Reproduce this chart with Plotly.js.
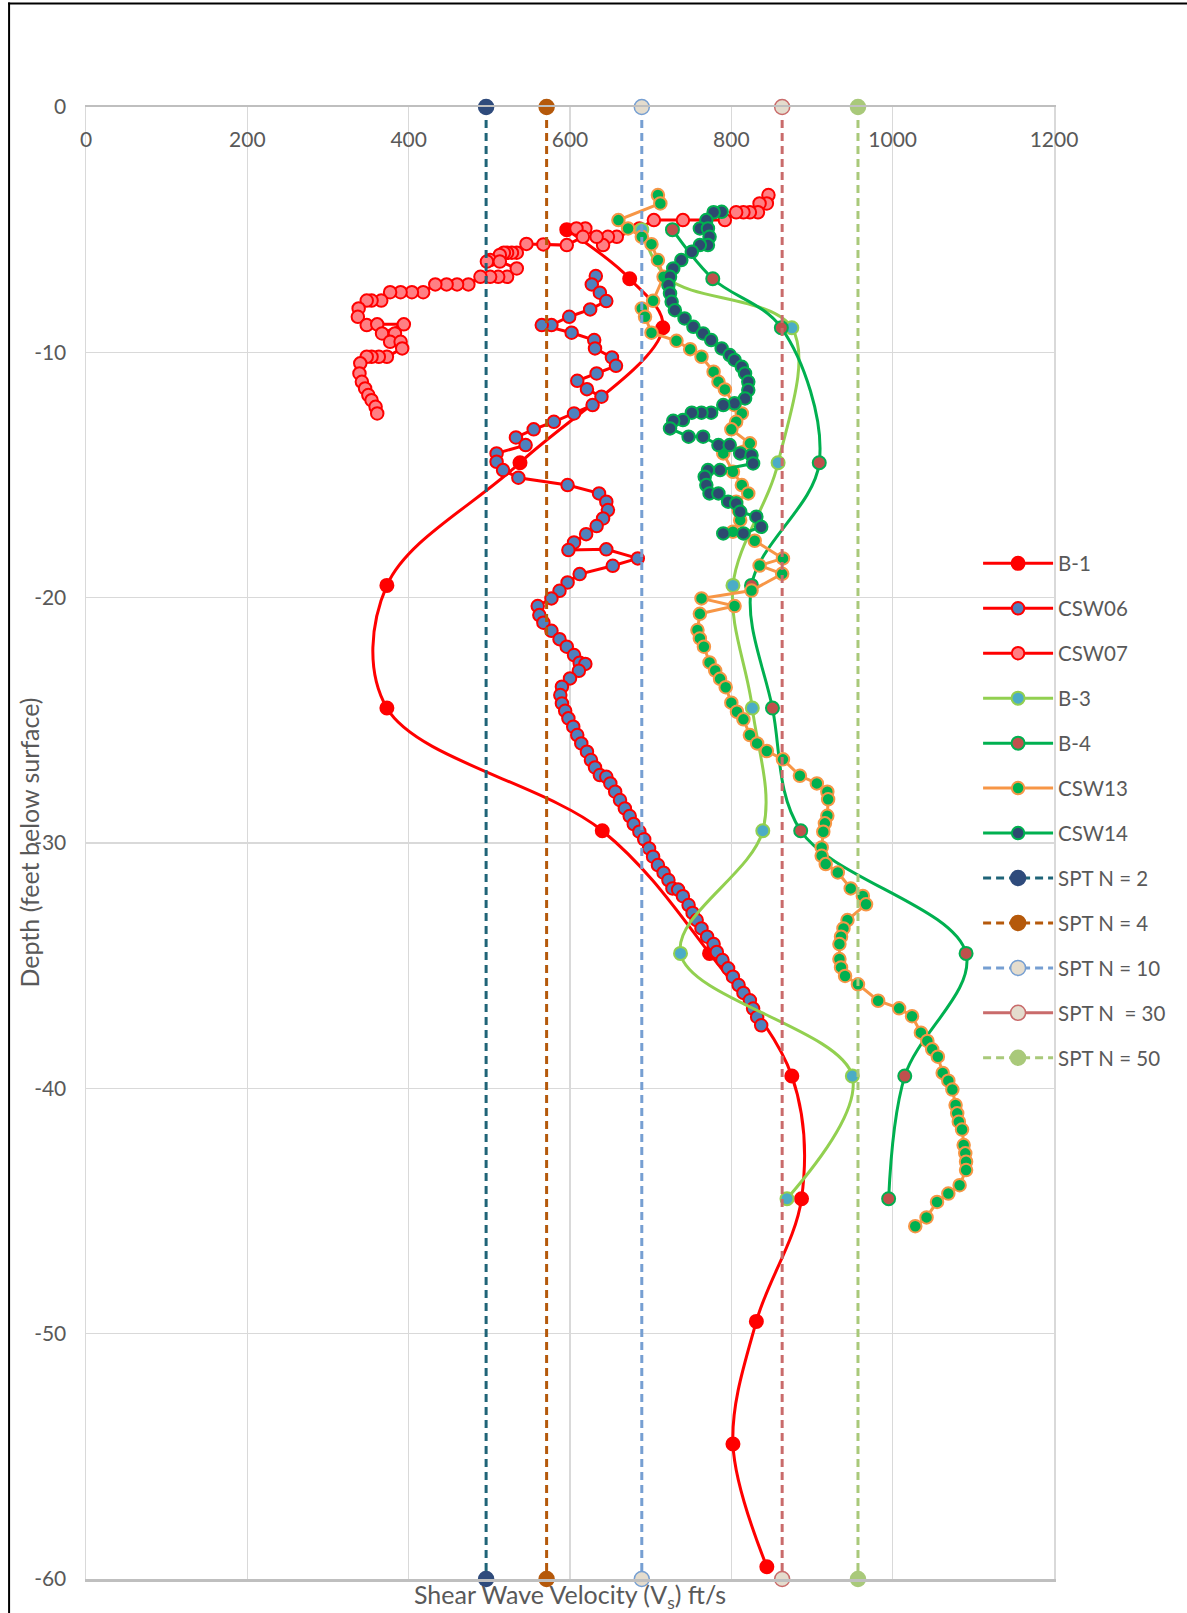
<!DOCTYPE html>
<html>
<head>
<meta charset="utf-8">
<script src="https://cdn.plot.ly/plotly-3.0.0.min.js"></script>
<style>
  html, body { margin: 0; padding: 0; background: #fff; }
  #chart { width: 1187px; height: 1613px; }
</style>
</head>
<body>
<div id="chart"></div>
<script>
// ---------------- DATA ----------------
const xTickVals = [0, 200, 400, 600, 800, 1000, 1200];
const yTickVals = [0, -10, -20, -30, -40, -50, -60];
const yTickText = ['0', '-10', '-20', '-30', '-40', '-50', '-60'];

const b1Vs    = [596, 674, 715, 538, 373, 373, 640, 773, 875, 887, 831, 802, 844];
const b1Depth = [-5, -7, -9, -14.5, -19.5, -24.5, -29.5, -34.5, -39.5, -44.5, -49.5, -54.5, -59.5];

const csw06Vs = [632, 627, 637, 645, 625, 599, 577, 565, 602, 630, 631, 652, 657, 633, 609, 621, 639, 628, 605, 580,
  555, 533, 545, 509, 509, 517, 536, 597, 636, 645, 647, 641, 633, 620, 605, 598, 645, 684, 653, 612,
  597, 587, 577, 560, 562, 567, 577, 587, 596, 605, 612, 619, 611, 600, 590, 588, 590, 594, 598, 604,
  609, 614, 621, 626, 631, 637, 645, 650, 656, 662, 668, 674, 679, 686, 692, 698, 703, 709, 716, 722,
  727, 734, 740, 747, 752, 757, 763, 770, 778, 782, 789, 796, 802, 809, 815, 823, 827, 832, 837];
const csw06Depth = [-6.89, -7.23, -7.57, -7.91, -8.25, -8.55, -8.89, -8.89, -9.2, -9.5, -9.84, -10.21, -10.55, -10.86, -11.16, -11.5, -11.81, -12.15, -12.49, -12.83,
  -13.14, -13.47, -13.78, -14.12, -14.46, -14.8, -15.11, -15.41, -15.75, -16.09, -16.43, -16.77, -17.08, -17.41, -17.75, -18.06, -18.03, -18.4, -18.7, -19.04,
  -19.38, -19.72, -20.03, -20.34, -20.71, -21.02, -21.35, -21.69, -22.0, -22.34, -22.65, -22.7, -22.98, -23.29, -23.63, -23.97, -24.31, -24.61, -24.92, -25.26,
  -25.6, -25.94, -26.28, -26.62, -26.92, -27.23, -27.3, -27.57, -27.91, -28.25, -28.59, -28.9, -29.23, -29.54, -29.85, -30.22, -30.56, -30.9, -31.21, -31.51,
  -31.85, -31.9, -32.17, -32.53, -32.85, -33.14, -33.48, -33.82, -34.12, -34.44, -34.77, -35.11, -35.45, -35.79, -36.11, -36.41, -36.75, -37.09, -37.43];

const csw07Vs = [846, 844, 835, 833, 823, 815, 806, 792, 740, 704, 686, 658, 647, 641, 633, 619, 608, 616, 596, 567,
  546, 534, 528, 522, 518, 513, 501, 497, 513, 534, 522, 511, 501, 489, 474, 460, 447, 433, 418, 404,
  390, 377, 366, 354, 348, 338, 337, 348, 361, 394, 367, 383, 377, 390, 392, 373, 363, 354, 348, 340,
  339, 342, 346, 350, 354, 359, 361];
const csw07Depth = [-3.59, -3.93, -3.93, -4.29, -4.29, -4.29, -4.29, -4.61, -4.61, -4.61, -4.95, -5.29, -5.29, -5.63, -5.29, -4.95, -4.95, -5.29, -5.63, -5.6,
  -5.58, -5.94, -5.94, -5.94, -5.94, -6.03, -6.24, -6.3, -6.3, -6.58, -6.92, -6.92, -6.92, -6.92, -7.23, -7.23, -7.23, -7.23, -7.55, -7.55,
  -7.55, -7.55, -7.89, -7.89, -7.89, -8.21, -8.55, -8.89, -8.86, -8.86, -9.23, -9.23, -9.57, -9.57, -9.84, -10.18, -10.18, -10.18, -10.18, -10.45,
  -10.86, -11.2, -11.47, -11.74, -11.95, -12.22, -12.49];

const b3Vs    = [689, 722, 875, 858, 802, 826, 839, 737, 950, 869];
const b3Depth = [-5, -7, -9, -14.5, -19.5, -24.5, -29.5, -34.5, -39.5, -44.5];

const b4Vs    = [727, 777, 862, 909, 825, 851, 886, 1091, 1015, 995];
const b4Depth = [-5, -7, -9, -14.5, -19.5, -24.5, -29.5, -34.5, -39.5, -44.5];

const csw13Vs = [709, 712, 660, 672, 689, 701, 709, 716, 703, 689, 693, 701, 732, 749, 763, 778, 784, 792, 804, 813,
  806, 800, 823, 790, 802, 813, 821, 806, 809, 811, 802, 829, 864, 835, 863, 825, 763, 804, 761, 758,
  761, 766, 773, 780, 786, 793, 800, 807, 815, 823, 832, 844, 864, 885, 906, 919, 920, 919, 916, 914,
  912, 912, 917, 932, 948, 963, 967, 944, 939, 936, 934, 934, 936, 941, 957, 982, 1008, 1024, 1035, 1043,
  1049, 1056, 1062, 1069, 1074, 1078, 1080, 1082, 1086, 1088, 1090, 1091, 1091, 1083, 1069, 1055, 1042, 1028];
const csw13Depth = [-3.59, -3.93, -4.61, -4.95, -5.29, -5.59, -6.24, -6.92, -7.9, -8.21, -8.55, -9.2, -9.53, -9.87, -10.18, -10.79, -11.2, -11.51, -12.15, -12.49,
  -12.83, -13.14, -13.71, -14.12, -14.87, -15.41, -15.75, -16.09, -16.43, -16.84, -17.31, -17.68, -18.4, -18.69, -19.03, -19.71, -20.03, -20.34, -20.66, -21.32,
  -21.66, -22.0, -22.64, -22.97, -23.31, -23.65, -24.28, -24.65, -24.96, -25.6, -25.94, -26.25, -26.59, -27.26, -27.57, -27.91, -28.22, -28.89, -29.2, -29.54,
  -30.18, -30.52, -30.86, -31.2, -31.85, -32.16, -32.5, -33.14, -33.48, -33.82, -34.12, -34.73, -35.07, -35.42, -35.76, -36.43, -36.74, -37.06, -37.73, -38.07,
  -38.41, -38.71, -39.37, -39.69, -40.05, -40.68, -41.02, -41.36, -41.68, -42.31, -42.65, -42.99, -43.33, -43.95, -44.29, -44.63, -45.26, -45.62];

const csw14Vs = [788, 778, 769, 761, 771, 773, 771, 761, 751, 738, 728, 724, 722, 724, 726, 730, 742, 753, 765, 775,
  788, 798, 804, 813, 817, 821, 821, 817, 804, 790, 775, 763, 751, 740, 728, 724, 747, 765, 784, 798,
  811, 825, 827, 786, 771, 767, 769, 773, 784, 796, 806, 811, 831, 837, 815, 790];
const csw14Depth = [-4.27, -4.29, -4.61, -4.95, -4.95, -5.29, -5.63, -5.63, -5.9, -6.24, -6.58, -6.92, -7.26, -7.6, -7.94, -8.28, -8.62, -8.96, -9.23, -9.5,
  -9.84, -10.11, -10.31, -10.59, -10.86, -11.2, -11.54, -11.88, -12.08, -12.15, -12.46, -12.46, -12.46, -12.76, -12.79, -13.1, -13.44, -13.44, -13.78, -13.78,
  -14.12, -14.19, -14.53, -14.8, -14.8, -15.07, -15.41, -15.75, -15.75, -16.09, -16.16, -16.5, -16.7, -17.11, -17.38, -17.38];

// SPT reference velocities (vertical lines spanning depth 0 to -60)
const sptNames = ['SPT N = 2', 'SPT N = 4', 'SPT N = 10', 'SPT N\u00a0 = 30', 'SPT N = 50'];
const sptVs    = [496, 571, 689, 863, 957];
const sptDepthSpan = [0, -60];

// ---------------- STYLES ----------------
const FONT = 'Lato, "Open Sans", "DejaVu Sans", sans-serif';
const TXT = '#595959';

function series(name, xs, ys, lineColor, fill, border, spline, msize) {
  return {
    type: 'scatter', mode: 'lines+markers', name: name, legendgroup: name,
    x: xs, y: ys,
    line: { color: lineColor, width: 3, shape: spline ? 'spline' : 'linear', smoothing: 1 },
    marker: { symbol: 'circle', size: msize || 12.5, color: fill, line: { color: border, width: 2 } }
  };
}

const sptStyles = [
  { line: '#1F6478', fill: '#2F4B7C', border: '#2F4B7C' },
  { line: '#B5590B', fill: '#B5590B', border: '#B5590B' },
  { line: '#769FD2', fill: '#E4DCCD', border: '#769FD2' },
  { line: '#C96B6B', fill: '#E4DCCD', border: '#C96B6B' },
  { line: '#A9C97A', fill: '#A9C97A', border: '#A9C97A' }
];

const traces = [
  series('B-1', b1Vs, b1Depth, '#FF0000', '#FF0000', '#FF0000', true, 13),
  series('CSW06', csw06Vs, csw06Depth, '#FF0000', '#4F81BD', '#FF0000', false),
  series('CSW07', csw07Vs, csw07Depth, '#FF0000', '#FF7F84', '#FF0000', false),
  series('B-3', b3Vs, b3Depth, '#92D050', '#4BACC6', '#92D050', true, 13),
  series('B-4', b4Vs, b4Depth, '#00B050', '#C0504D', '#00B050', true, 13),
  series('CSW13', csw13Vs, csw13Depth, '#F79646', '#00B050', '#F79646', false),
  series('CSW14', csw14Vs, csw14Depth, '#00B050', '#2D4A70', '#00B050', false)
];

sptNames.forEach(function (nm, i) {
  const st = sptStyles[i];
  const base = {
    type: 'scatter', mode: 'lines+markers', legendgroup: nm, cliponaxis: false,
    marker: { symbol: 'circle', size: 15, color: st.fill, line: { color: st.border, width: 1.5 } }
  };
  if (i === 3) {
    // legend sample for N = 30 is drawn solid in the original
    traces.push(Object.assign({}, base, { name: nm, x: [null], y: [null],
      line: { color: st.line, width: 3, dash: 'solid' } }));
    traces.push(Object.assign({}, base, { name: nm, showlegend: false,
      x: [sptVs[i], sptVs[i]], y: sptDepthSpan,
      line: { color: st.line, width: 3, dash: '8px,5px' } }));
  } else {
    traces.push(Object.assign({}, base, { name: nm,
      x: [sptVs[i], sptVs[i]], y: sptDepthSpan,
      line: { color: st.line, width: 3, dash: '8px,5px' } }));
  }
});

const L = 85.5, T = 107, W = 969, H = 1472;
function px2paperX(p) { return (p - L) / W; }
function px2paperY(p) { return (T + H - p) / H; }

const layout = {
  width: 1187, height: 1613,
  margin: { l: L, r: 1187 - L - W, t: T, b: 1613 - T - H, pad: 0 },
  paper_bgcolor: '#ffffff', plot_bgcolor: 'rgba(0,0,0,0)',
  font: { family: FONT, color: TXT, size: 21 },
  showlegend: true,
  xaxis: {
    range: [0, 1200], side: 'top', tickmode: 'array', tickvals: xTickVals,
    ticklabelposition: 'outside', ticks: '', ticklabelstandoff: -51,
    tickfont: { family: FONT, size: 21, color: TXT },
    showgrid: true, gridcolor: '#D9D9D9', gridwidth: 1.5,
    showline: true, linecolor: '#BFBFBF', linewidth: 2.5, mirror: true,
    zeroline: false, fixedrange: true
  },
  yaxis: {
    range: [-60, 0], tickmode: 'array', tickvals: yTickVals, ticktext: yTickText,
    ticks: '', ticklabelstandoff: 14,
    tickfont: { family: FONT, size: 21, color: TXT },
    showgrid: true, gridcolor: '#D9D9D9', gridwidth: 1.5,
    showline: true, linecolor: '#D9D9D9', linewidth: 1.5, mirror: true,
    zeroline: false, fixedrange: true
  },
  legend: {
    x: px2paperX(978.5), xanchor: 'left', y: px2paperY(543.5), yanchor: 'top',
    bgcolor: 'rgba(0,0,0,0)', borderwidth: 0,
    font: { family: FONT, size: 20.5, color: TXT },
    itemwidth: 70, traceorder: 'grouped', tracegroupgap: 15.3
  },
  annotations: [
    { text: 'Shear Wave Velocity (V<sub>s</sub>) ft/s', xref: 'paper', yref: 'paper',
      x: 0.5, y: px2paperY(1596), xanchor: 'center', yanchor: 'middle', showarrow: false,
      font: { family: FONT, size: 25, color: TXT } },
    { text: 'Depth (feet below surface)', xref: 'paper', yref: 'paper', textangle: -90,
      x: px2paperX(28), y: 0.5, xanchor: 'center', yanchor: 'middle', showarrow: false,
      font: { family: FONT, size: 25, color: TXT } }
  ],
  shapes: [
    { type: 'line', xref: 'paper', yref: 'paper', x0: px2paperX(8.5), x1: px2paperX(8.5),
      y0: px2paperY(2.5), y1: px2paperY(1620), line: { color: '#000000', width: 2 } },
    { type: 'line', xref: 'paper', yref: 'paper', x0: px2paperX(7.5), x1: px2paperX(1200),
      y0: px2paperY(3.5), y1: px2paperY(3.5), line: { color: '#000000', width: 2 } }
  ]
};

Plotly.newPlot('chart', traces, layout, { displayModeBar: false, staticPlot: true });
</script>
</body>
</html>
